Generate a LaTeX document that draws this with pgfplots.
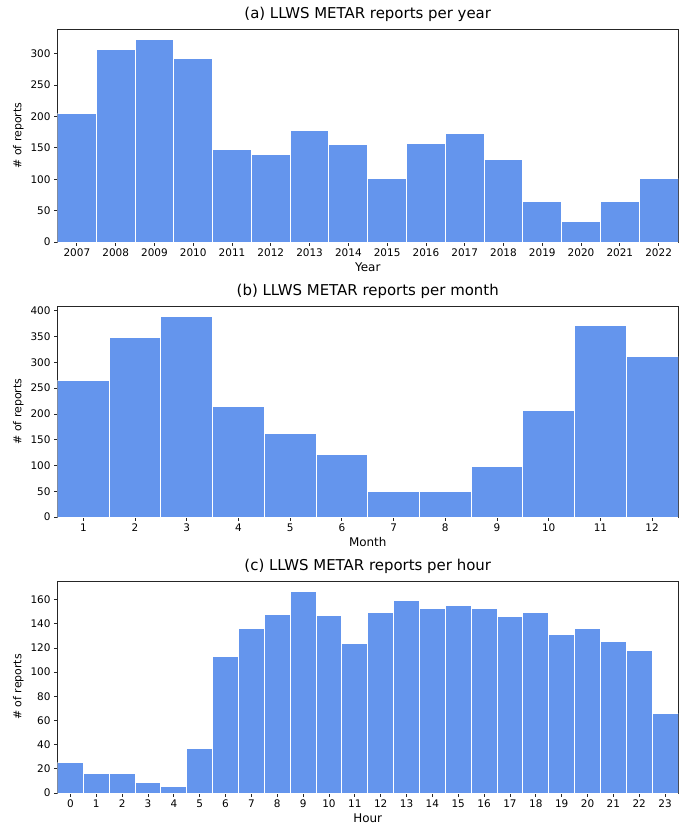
\documentclass[border=0pt]{standalone}
\usepackage{fontspec}
\setmainfont{DejaVu Sans}
\usepackage{pgfplots}
\pgfplotsset{compat=1.18}
\definecolor{barblue}{RGB}{100,149,237}
\pgfplotsset{
  myaxis/.style={
    scale only axis,
    width=620.5bp,
    anchor=north west,
    axis line style={black!85, line width=0.8bp},
    tick align=outside,
    tick pos=left,
    major tick length=3.5bp,
    every tick/.style={black!85, line width=0.8bp},
    ymin=0,
    ybar, bar width=1, bar shift=0,
    /pgf/number format/assume math mode=true,
    /pgf/number format/1000 sep={},
    tick label style={font=\fontsize{10.5}{12}\selectfont},
    ylabel style={font=\fontsize{11}{13}\selectfont},
    xlabel style={font=\fontsize{12}{14}\selectfont, yshift=1bp},
    title style={font=\fontsize{15}{17}\selectfont, at={(0.5,1)}, anchor=base, yshift=5bp},
    ylabel={\# of reports},
    xtick=data,
  },
  mybar/.style={fill=barblue, draw=white, line width=1bp},
}
\begin{document}
\begin{tikzpicture}
\path[use as bounding box] (0,0) rectangle (686bp,-826bp);
% (a) per year
\begin{axis}[myaxis, at={(57.5bp,-29bp)}, height=213bp,
  xmin=2006.5, xmax=2022.5, ymax=339.2,
  ytick={0,50,100,150,200,250,300},
  xlabel={Year},
  title={(a) LLWS METAR reports per year}]
\addplot[mybar] coordinates {
(2007,205) (2008,306) (2009,323) (2010,292) (2011,147) (2012,139)
(2013,177) (2014,156) (2015,101) (2016,157) (2017,172) (2018,132)
(2019,64) (2020,32) (2021,64) (2022,101)};
\end{axis}
% (b) per month
\begin{axis}[myaxis, at={(57.5bp,-306bp)}, height=211bp,
  xmin=0.5, xmax=12.5, ymax=409.5,
  ytick={0,50,100,150,200,250,300,350,400},
  xlabel={Month},
  title={(b) LLWS METAR reports per month}]
\addplot[mybar] coordinates {
(1,265) (2,348) (3,390) (4,214) (5,163) (6,121)
(7,49) (8,49) (9,98) (10,206) (11,371) (12,311)};
\end{axis}
% (c) per hour
\begin{axis}[myaxis, at={(57.5bp,-581bp)}, height=212bp,
  xmin=-0.5, xmax=23.5, ymax=175.35,
  ytick={0,20,40,60,80,100,120,140,160},
  xlabel={Hour},
  title={(c) LLWS METAR reports per hour}]
\addplot[mybar] coordinates {
(0,25) (1,16) (2,16) (3,9) (4,5) (5,37) (6,113) (7,136)
(8,148) (9,167) (10,147) (11,124) (12,149) (13,159) (14,153) (15,155)
(16,153) (17,146) (18,149) (19,131) (20,136) (21,125) (22,118) (23,66)};
\end{axis}
\end{tikzpicture}
\end{document}
